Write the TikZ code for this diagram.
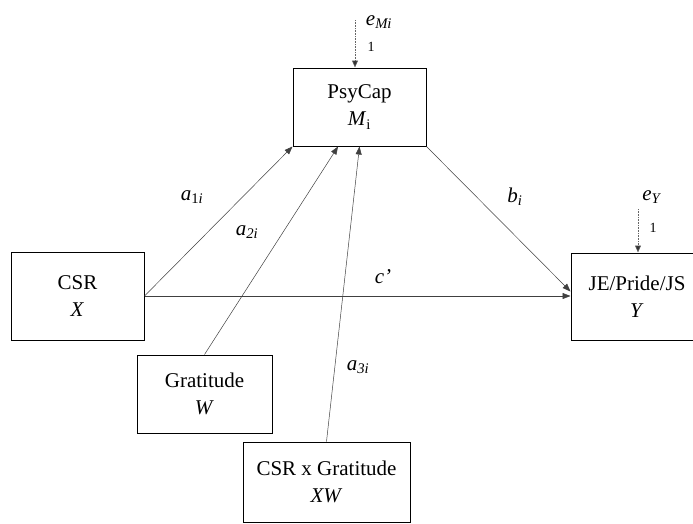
\documentclass[tikz,border=0pt]{standalone}
\usepackage{fontspec}
\setmainfont{Liberation Serif}
\usetikzlibrary{arrows.meta,calc}
\begin{document}
\begin{tikzpicture}[x=1pt,y=-1pt,
  varbox/.style={draw=black,line width=1pt,inner sep=0pt,align=center,
    font=\fontsize{21}{27}\selectfont},
  path/.style={draw=black!75,line width=0.5pt,-{Triangle[length=8pt,width=6pt]}},
  errpath/.style={draw=black!60,line width=0.6pt,densely dotted,-{Triangle[length=7pt,width=6pt,fill=black!80]}},
  lab/.style={font=\fontsize{21}{25}\selectfont,inner sep=0pt},
  one/.style={font=\fontsize{14}{16}\selectfont,inner sep=0pt}]
\useasboundingbox (0,0) rectangle (693,523);
% boxes
\node[varbox,minimum width=133pt,minimum height=78pt] (psy) at (359.5,107) {PsyCap\\\textit{M}\textsubscript{i}};
\node[varbox,minimum width=133pt,minimum height=88pt] (csr) at (77.5,296) {CSR\\\textit{X}};
\node[varbox,minimum width=132pt,minimum height=87pt] (je) at (637,296.5) {JE/Pride/JS\\\textit{Y}};
\node[varbox,minimum width=135pt,minimum height=78pt] (grat) at (204.5,394) {Gratitude\\\textit{W}};
\node[varbox,minimum width=167pt,minimum height=80pt] (xw) at (326.5,482) {CSR x Gratitude\\\textit{XW}};
% connector endpoints
\coordinate (psyA2) at ($(psy.south west)!0.34!(psy.south east)$);
\coordinate (jeB) at ($(je.west)+(0,-5)$);
\coordinate (eMtop) at (355,20);
\coordinate (eYtop) at (638,209);
% paths
\draw[path] (csr.east) -- (psy.south west);
\draw[path] (grat.north) -- (psyA2);
\draw[path] (xw.north) -- (psy.south);
\draw[path] (psy.south east) -- (jeB);
\draw[path] (csr.east) -- (csr.east -| je.west);
\draw[errpath] (eMtop) -- (eMtop |- psy.north);
\draw[errpath] (eYtop) -- (eYtop |- je.north);
% labels
\node[lab] (la1) at (192,197) {\textit{a}\textsubscript{1\textit{i}}};
\node[lab] (la2) at (247,232) {\textit{a}\textsubscript{\textit{2i}}};
\node[lab] (la3) at (358,367) {\textit{a}\textsubscript{\textit{3i}}};
\node[lab] (lb) at (515,197) {\textit{b}\textsubscript{\textit{i}}};
\node[lab] (lc) at (383,277) {\textit{c’}};
\node[lab] (leM) at (379,22) {\textit{e}\textsubscript{\textit{Mi}}};
\node[one] (l1M) at (371,47) {1};
\node[lab] (leY) at (652,197) {\textit{e}\textsubscript{\textit{Y}}};
\node[one] (l1Y) at (653,228) {1};
\end{tikzpicture}
\end{document}
